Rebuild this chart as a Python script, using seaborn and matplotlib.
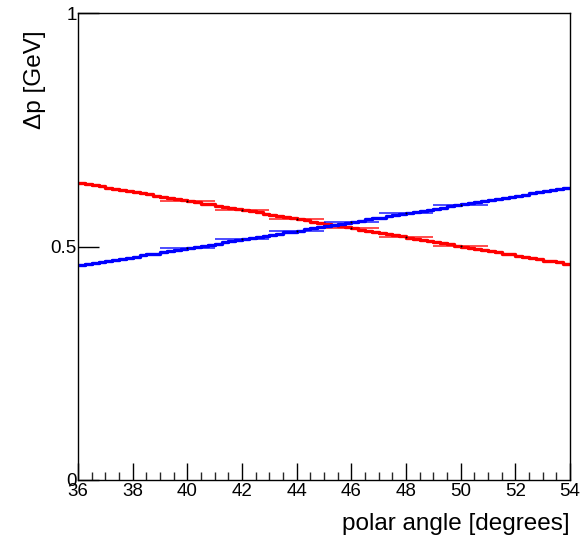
import numpy as np
import pandas as pd
import matplotlib
matplotlib.use("Agg")
import matplotlib.pyplot as plt
from matplotlib.ticker import MultipleLocator
import seaborn as sns

# ---- data ----
bin_lo = 36.0
bin_w = 0.25
red_fine = [0.636, 0.634, 0.631, 0.629, 0.626, 0.624, 0.621, 0.619,
            0.617, 0.614, 0.612, 0.609, 0.607, 0.604, 0.602, 0.599,
            0.597, 0.595, 0.592, 0.590, 0.587, 0.585, 0.582, 0.580,
            0.578, 0.575, 0.573, 0.570, 0.568, 0.565, 0.563, 0.561,
            0.558, 0.556, 0.553, 0.551, 0.548, 0.546, 0.544, 0.541,
            0.539, 0.536, 0.534, 0.531, 0.529, 0.526, 0.524, 0.522,
            0.519, 0.517, 0.514, 0.512, 0.509, 0.507, 0.505, 0.502,
            0.500, 0.497, 0.495, 0.492, 0.490, 0.488, 0.485, 0.483,
            0.480, 0.478, 0.475, 0.473, 0.470, 0.468, 0.466, 0.463]
blue_fine = [0.460, 0.462, 0.464, 0.467, 0.469, 0.471, 0.474, 0.476,
             0.478, 0.481, 0.483, 0.485, 0.488, 0.490, 0.492, 0.495,
             0.497, 0.499, 0.502, 0.504, 0.506, 0.509, 0.511, 0.513,
             0.516, 0.518, 0.520, 0.523, 0.525, 0.527, 0.530, 0.532,
             0.534, 0.537, 0.539, 0.541, 0.544, 0.546, 0.548, 0.551,
             0.553, 0.555, 0.558, 0.560, 0.562, 0.565, 0.567, 0.569,
             0.572, 0.574, 0.576, 0.579, 0.581, 0.583, 0.586, 0.588,
             0.590, 0.593, 0.595, 0.597, 0.600, 0.602, 0.604, 0.607,
             0.609, 0.611, 0.614, 0.616, 0.618, 0.621, 0.623, 0.625]

wide_centers = [40, 42, 44, 46, 48, 50]
wide_halfwidth = 1.0
red_wide = [0.598, 0.579, 0.559, 0.540, 0.521, 0.501]
blue_wide = [0.496, 0.515, 0.533, 0.552, 0.571, 0.589]

x_ticks = [36, 38, 40, 42, 44, 46, 48, 50, 52, 54]
y_ticks = [0, 0.5, 1]
y_tick_labels = ["0", "0.5", "1"]
x_title = "polar angle [degrees]"
y_title = "Δp [GeV]"

# ---- figure ----
sns.set_theme(style="white")
plt.rcParams["font.family"] = ["Liberation Sans", "DejaVu Sans"]

fig = plt.figure(figsize=(5.88, 5.37), dpi=100)
ax = fig.add_axes([78 / 588, 1 - 480 / 537, (570 - 78) / 588, (480 - 13) / 537])


def step_frame(vals):
    n = len(vals)
    edges = bin_lo + bin_w * np.arange(n + 1)
    return pd.DataFrame({"x": edges, "y": list(vals) + [vals[-1]]})


for vals, wide, col in [(red_fine, red_wide, "#ff0000"), (blue_fine, blue_wide, "#0000ff")]:
    df = step_frame(vals)
    sns.lineplot(data=df, x="x", y="y", drawstyle="steps-post", color=col,
                 linewidth=2.4, ax=ax, estimator=None, sort=False)
    ax.errorbar(wide_centers, wide, xerr=wide_halfwidth, fmt="none",
                ecolor=col, elinewidth=1.4, alpha=0.7, capsize=0)
    sns.scatterplot(x=wide_centers, y=wide, color="black", s=2, linewidth=0,
                    ax=ax, zorder=5)

ax.set_xlim(36, 54)
ax.set_ylim(0, 1)
ax.set_xticks(x_ticks)
ax.set_xticklabels([str(t) for t in x_ticks])
ax.xaxis.set_minor_locator(MultipleLocator(0.5))
ax.set_yticks(y_ticks)
ax.set_yticklabels(y_tick_labels)
ax.tick_params(axis="x", which="major", direction="in", length=12, width=1,
               labelsize=13.5, pad=2, colors="black", bottom=True, top=False)
ax.tick_params(axis="x", which="minor", direction="in", length=6, width=1,
               bottom=True, top=False)
ax.tick_params(axis="y", which="major", direction="in", length=15, width=1,
               labelsize=13.5, pad=1, colors="black", left=True, right=False)
for sp in ax.spines.values():
    sp.set_color("black")
    sp.set_linewidth(1.0)
ax.set_xlabel("")
ax.set_ylabel("")
ax.grid(False)

fig.text(570 / 588, 1 - 530 / 537, x_title, ha="right", va="baseline",
         fontsize=17.5, color="black")
fig.text(35 / 588, 1 - 30 / 537, y_title, ha="center", va="top",
         rotation=90, fontsize=17.5, color="black")

fig.savefig("out.png", dpi=100, facecolor="white")
